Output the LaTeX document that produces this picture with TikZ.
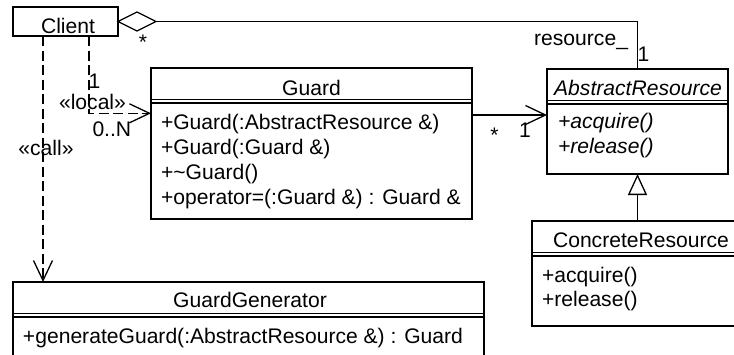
\documentclass[tikz,border=0pt]{standalone}
\usepackage{fontspec}
\setmainfont{Liberation Sans}
\usetikzlibrary{arrows.meta,calc}
\newcommand{\compsep}[1]{%
  \draw ($(#1.north west)+(0,31.5)$) -- ($(#1.north east)+(0,31.5)$);
  \draw ($(#1.north west)+(0,35)$) -- ($(#1.north east)+(0,35)$);}
\begin{document}
\begin{tikzpicture}[x=1pt,y=-1pt,line width=1.3pt,
  every node/.style={inner sep=0pt,outer sep=0pt,font=\fontsize{21.1}{25}\selectfont},
  classbox/.style={draw,anchor=north west,minimum width=#1},
  title/.style={anchor=base},
  opline/.style={anchor=base west},
  lbl/.style={anchor=base},
  openarrow/.style={-{Straight Barb[length=20pt,width=19pt]}},
  dep/.style={dash pattern=on 10pt off 4.5pt},
  gen/.style={-{Triangle[open,length=21pt,width=19pt]}}]
\useasboundingbox (0,0) rectangle (734,354);

% boxes
\node[classbox=105,minimum height=29] (client) at (13,7) {};
\node[classbox=321,minimum height=151] (guard) at (151,68) {};
\node[classbox=181,minimum height=105] (ar) at (547,69) {};
\node[classbox=218,minimum height=105] (cr) at (532,221) {};
\node[classbox=471,minimum height=78] (gg) at (13,282) {};
\compsep{guard}
\compsep{ar}
\compsep{cr}
\compsep{gg}

% titles
\node[title] (clientname) at (68,33) {Client};
\node[title] (guardname) at (311.5,95) {Guard};
\node[title] (arname) at (638,95) {\itshape AbstractResource};
\node[title] (crname) at (641,247) {ConcreteResource};
\node[title] (ggname) at (250,307) {GuardGenerator};

% operations
\node[opline] (g1) at (161,129.3) {+Guard(:AbstractResource \&)};
\node[opline] (g2) at (161,154.3) {+Guard(:Guard \&)};
\node[opline] (g3) at (161,179.3) {+\char"7E Guard()};
\node[opline] (g4) at (161,204.3) {+operator=(:Guard \&) : Guard \&};
\node[opline] (a1) at (558,128.5) {\itshape +acquire()};
\node[opline] (a2) at (558,153.5) {\itshape +release()};
\node[opline] (c1) at (542,282) {+acquire()};
\node[opline] (c2) at (542,306.5) {+release()};
\node[opline] (gg1) at (23,343) {+generateGuard(:AbstractResource \&) : Guard};

% aggregation Client <>--- AbstractResource
\coordinate (dtip) at ($(client.east)+(38,0)$);
\draw[fill=white] (client.east) -- ++(19,-9.5) -- (dtip) -- ++(-19,9.5) -- cycle;
\draw (dtip) -| (ar.north);
\node[lbl] (aggstar) at (143,49.5) {*};
\node[anchor=base east] (reslbl) at (628,45) {resource\_};
\node[anchor=base west] (aggone) at (637.5,61.5) {1};

% local dependency Client -> Guard
\coordinate (lstart) at ($(client.south west)+(76,0)$);
\coordinate (lend) at ($(guard.north west)+(0,45.3)$);
\draw[dep,openarrow] (lstart) |- (lend);
\node[anchor=base west] (lone) at (88.5,88) {1};
\node[lbl] (locallbl) at (92.5,109.5) {«local»};
\node[anchor=base west] (lmany) at (92.5,136.7) {0..N};

% call dependency Client -> GuardGenerator
\coordinate (cstart) at ($(client.south west)+(30,0)$);
\draw[dep,openarrow] (cstart) -- (cstart |- gg.north);
\node[lbl] (calllbl) at (46,155) {«call»};

% association Guard -> AbstractResource
\coordinate (astart) at ($(guard.north east)+(0,47)$);
\draw[openarrow] (astart) -- (astart -| ar.west);
\node[lbl] (assocstar) at (494.5,142) {*};
\node[anchor=base west] (assocone) at (519,137) {1};

% generalization ConcreteResource -> AbstractResource
\draw[gen] (ar.south |- cr.north) -- (ar.south);
\end{tikzpicture}
\end{document}
